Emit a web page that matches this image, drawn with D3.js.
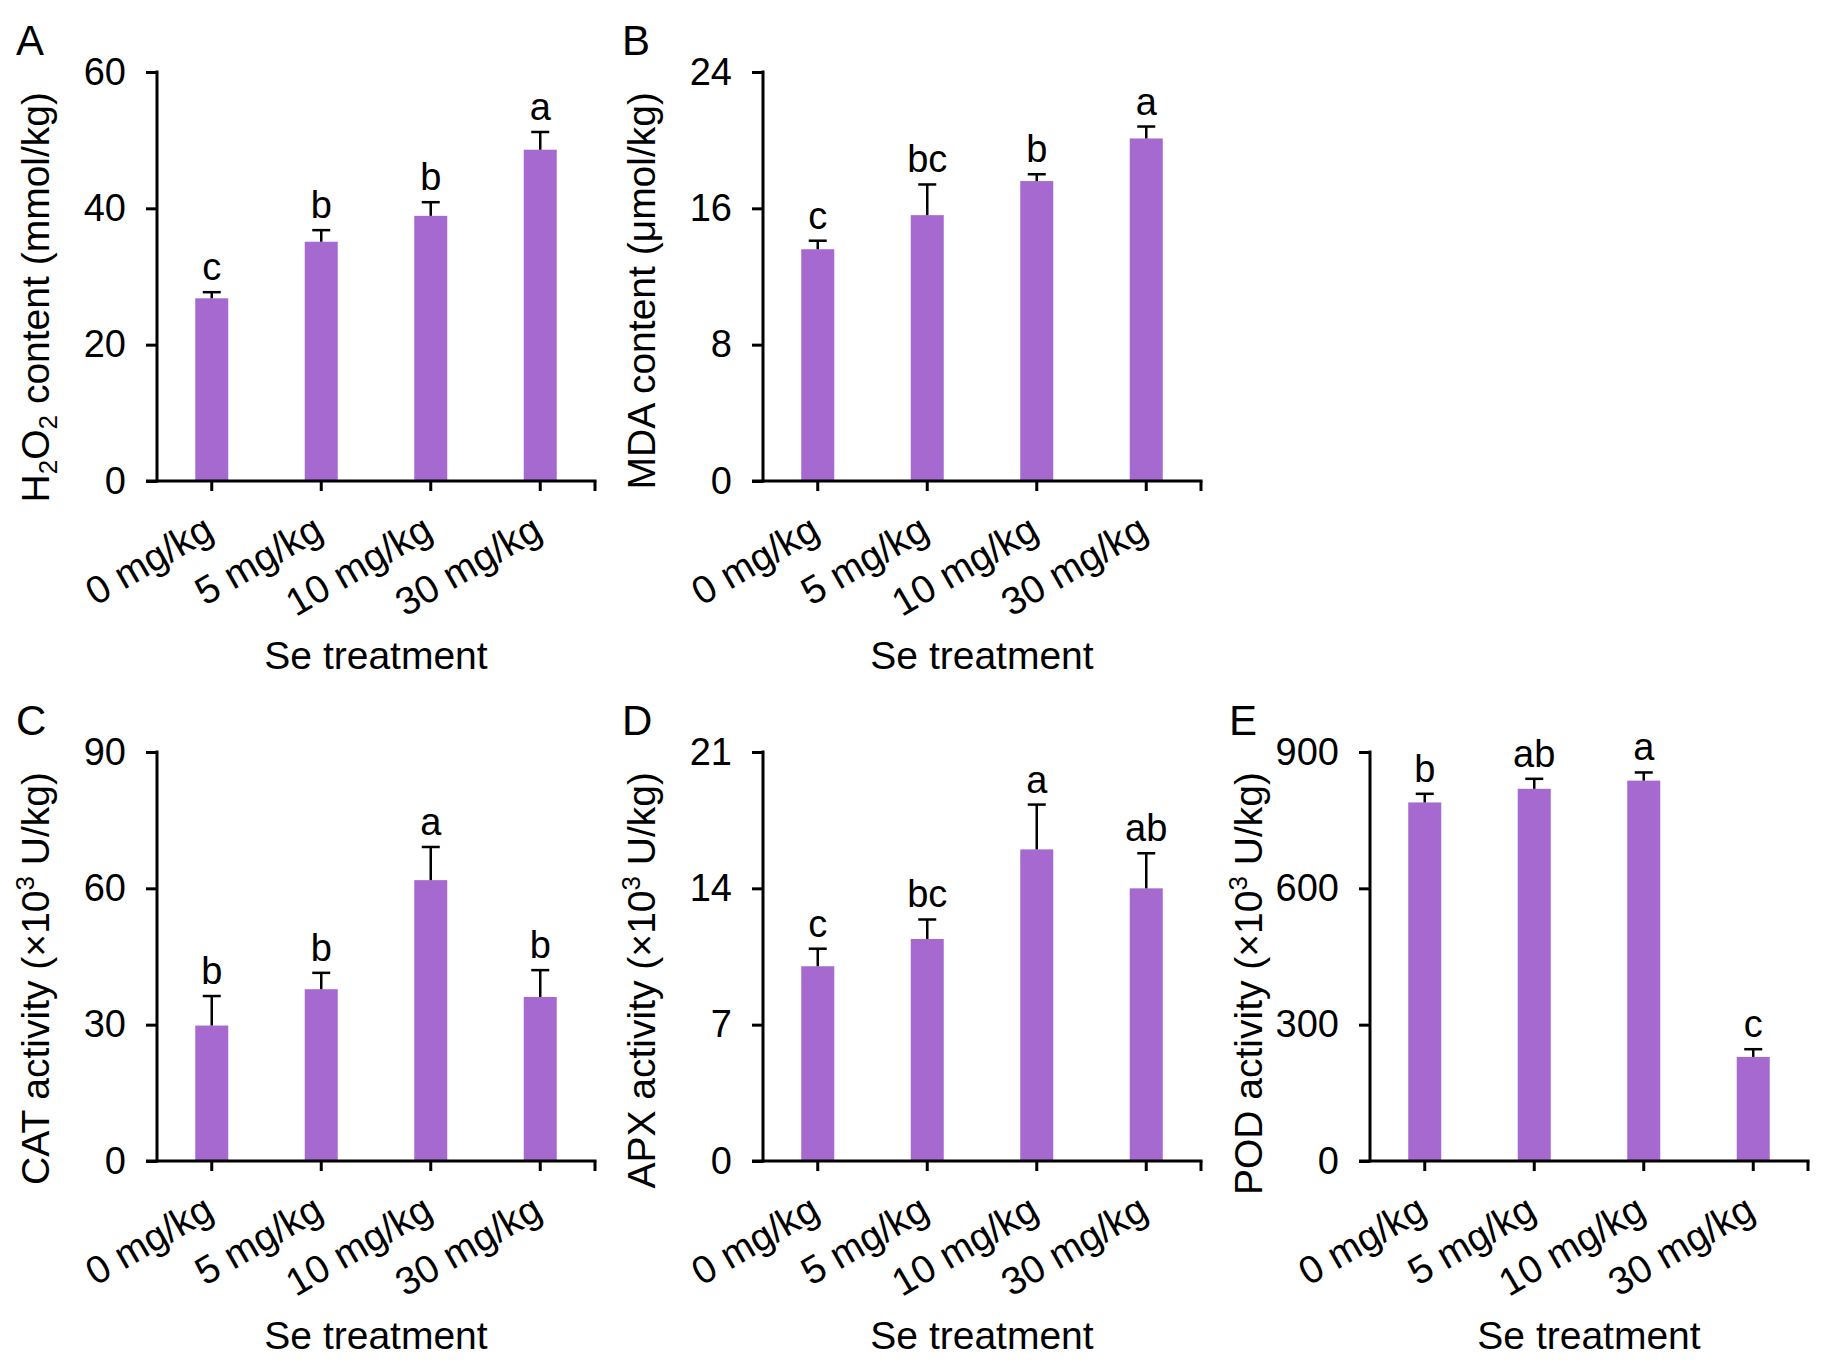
<!DOCTYPE html>
<html>
<head>
<meta charset="utf-8">
<script src="https://cdn.jsdelivr.net/npm/d3@7"></script>
<style>
  html, body { margin: 0; padding: 0; background: #fff; }
  svg text { font-family: Arial, "Liberation Sans", Helvetica, sans-serif; fill: #000; }
</style>
</head>
<body>
<svg id="chart" width="1831" height="1372"></svg>
<script>
// ---------- data ----------
const categories = ["0 mg/kg", "5 mg/kg", "10 mg/kg", "30 mg/kg"];
const xTitle = "Se treatment";

const h2o2Mean = [26.8, 35.1, 38.9, 48.6];
const h2o2Err = [0.9, 1.7, 2.0, 2.6];
const h2o2Letters = ["c", "b", "b", "a"];
const h2o2Ticks = [0, 20, 40, 60];

const mdaMean = [13.6, 15.6, 17.6, 20.1];
const mdaErr = [0.5, 1.8, 0.4, 0.7];
const mdaLetters = ["c", "bc", "b", "a"];
const mdaTicks = [0, 8, 16, 24];

const catMean = [29.8, 37.8, 61.8, 36.1];
const catErr = [6.5, 3.6, 7.3, 5.9];
const catLetters = ["b", "b", "a", "b"];
const catTicks = [0, 30, 60, 90];

const apxMean = [10.0, 11.4, 16.0, 14.0];
const apxErr = [0.9, 1.0, 2.3, 1.8];
const apxLetters = ["c", "bc", "a", "ab"];
const apxTicks = [0, 7, 14, 21];

const podMean = [789, 819, 837, 229];
const podErr = [19, 22, 18, 17];
const podLetters = ["b", "ab", "a", "c"];
const podTicks = [0, 300, 600, 900];

// ---------- layout ----------
const colX = [157, 763, 1370];      // y-axis x position per column
const rowTop = [72, 752];           // y of max tick per row
const plotH = 409;
const plotW = 438;
const barColor = "#a569cf";
const tickFont = 38;
const labelFont = 39;
const sigFont = 38;

const panels = [
  { letter: "A", col: 0, row: 0, mean: h2o2Mean, err: h2o2Err, sig: h2o2Letters, ticks: h2o2Ticks,
    title: [["H"], ["2", "sub"], ["O"], ["2", "sub"], [" content (mmol/kg)"]] },
  { letter: "B", col: 1, row: 0, mean: mdaMean, err: mdaErr, sig: mdaLetters, ticks: mdaTicks,
    title: [["MDA content (μmol/kg)"]] },
  { letter: "C", col: 0, row: 1, mean: catMean, err: catErr, sig: catLetters, ticks: catTicks,
    title: [["CAT activity (×10"], ["3", "sup"], [" U/kg)"]] },
  { letter: "D", col: 1, row: 1, mean: apxMean, err: apxErr, sig: apxLetters, ticks: apxTicks,
    title: [["APX activity (×10"], ["3", "sup"], [" U/kg)"]] },
  { letter: "E", col: 2, row: 1, mean: podMean, err: podErr, sig: podLetters, ticks: podTicks,
    title: [["POD activity (×10"], ["3", "sup"], [" U/kg)"]] }
];

const svg = d3.select("#chart");

panels.forEach(p => {
  const ox = colX[p.col];
  const top = rowTop[p.row];
  const g = svg.append("g").attr("transform", `translate(${ox},${top})`);

  const x = d3.scaleBand().domain(categories).range([0, plotW]).paddingInner(0).paddingOuter(0);
  const y = d3.scaleLinear().domain([0, d3.max(p.ticks)]).range([plotH, 0]);
  const barW = 33;

  // bars
  g.selectAll("rect.bar").data(p.mean).join("rect")
    .attr("class", "bar")
    .attr("x", (d, i) => x(categories[i]) + x.bandwidth() / 2 - barW / 2)
    .attr("y", d => y(d))
    .attr("width", barW)
    .attr("height", d => plotH - y(d))
    .attr("fill", barColor);

  // error bars + significance letters
  const cap = 18;
  p.mean.forEach((m, i) => {
    const cx = x(categories[i]) + x.bandwidth() / 2;
    const yt = y(m + p.err[i]);
    g.append("line").attr("x1", cx).attr("x2", cx).attr("y1", y(m)).attr("y2", yt)
      .attr("stroke", "#000").attr("stroke-width", 2.5);
    g.append("line").attr("x1", cx - cap / 2).attr("x2", cx + cap / 2).attr("y1", yt).attr("y2", yt)
      .attr("stroke", "#000").attr("stroke-width", 2.5);
    g.append("text").attr("x", cx).attr("y", yt - 12)
      .attr("text-anchor", "middle").attr("font-size", sigFont)
      .text(p.sig[i]);
  });

  // y axis
  const yAxis = d3.axisLeft(y).tickValues(p.ticks).tickSize(11).tickPadding(20)
    .tickFormat(d3.format("d"));
  const ya = g.append("g").call(yAxis);
  ya.select(".domain").remove();
  ya.selectAll(".tick line").attr("stroke", "#000").attr("stroke-width", 3);
  ya.selectAll(".tick text").attr("font-size", tickFont)
    .attr("font-family", "Arial, 'Liberation Sans', sans-serif").attr("fill", "#000");
  g.append("line").attr("x1", 0).attr("x2", 0).attr("y1", -1.5).attr("y2", plotH + 1.5)
    .attr("stroke", "#000").attr("stroke-width", 3);

  // x axis
  const xAxis = d3.axisBottom(x).tickSize(10).tickFormat("");
  const xa = g.append("g").attr("transform", `translate(0,${plotH})`).call(xAxis);
  xa.select(".domain").remove();
  xa.selectAll(".tick line").attr("stroke", "#000").attr("stroke-width", 3);
  g.append("line").attr("x1", -11).attr("x2", plotW + 1.5).attr("y1", plotH).attr("y2", plotH)
    .attr("stroke", "#000").attr("stroke-width", 3);
  g.append("line").attr("x1", plotW).attr("x2", plotW).attr("y1", plotH).attr("y2", plotH + 10)
    .attr("stroke", "#000").attr("stroke-width", 3);

  // rotated category labels
  categories.forEach(c => {
    const cx = x(c) + x.bandwidth() / 2;
    g.append("text")
      .attr("transform", `translate(${cx + 4},${plotH + 56}) rotate(-30)`)
      .attr("text-anchor", "end").attr("font-size", labelFont)
      .text(c);
  });

  // x title
  g.append("text").attr("x", plotW / 2).attr("y", plotH + 188)
    .attr("text-anchor", "middle").attr("font-size", labelFont)
    .text(xTitle);

  // y title
  const yt = g.append("text")
    .attr("transform", `translate(-108,20) rotate(-90)`)
    .attr("text-anchor", "end").attr("font-size", labelFont);
  let shift = 0;
  p.title.forEach(([txt, kind]) => {
    const ts = yt.append("tspan").text(txt);
    if (kind === "sub") { ts.attr("font-size", 26).attr("dy", 8 - shift); shift = 8; }
    else if (kind === "sup") { ts.attr("font-size", 26).attr("dy", -15 - shift); shift = -15; }
    else if (shift !== 0) { ts.attr("dy", -shift); shift = 0; }
  });

  // panel letter
  g.append("text").attr("x", -141).attr("y", -17)
    .attr("font-size", 42).text(p.letter);
});
</script>
</body>
</html>
